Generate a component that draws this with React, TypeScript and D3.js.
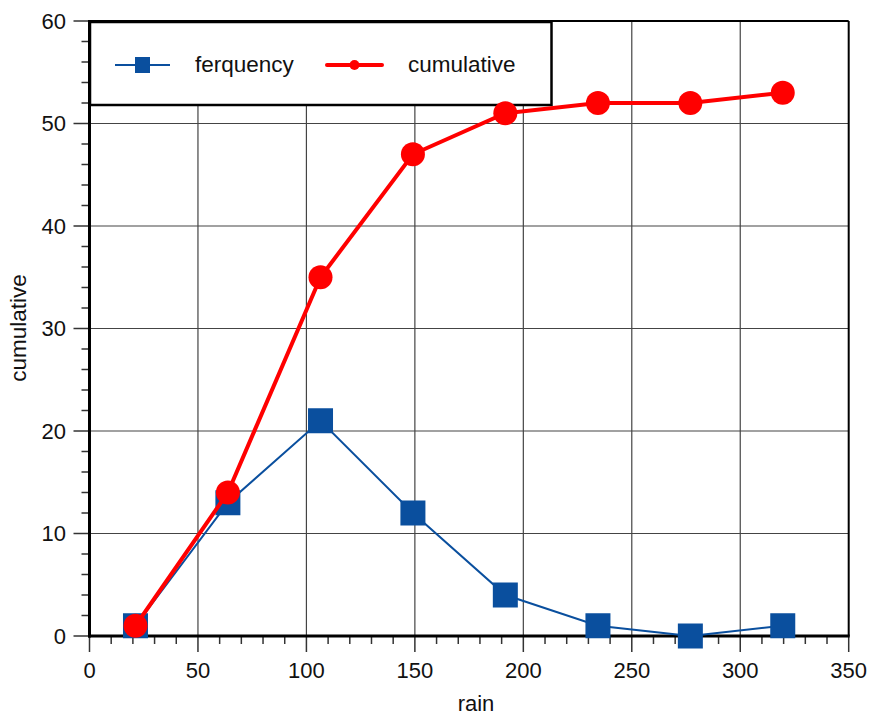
import React from "react";
import * as d3 from "d3";

const rain = [21.2, 63.8, 106.5, 149.1, 191.7, 234.4, 277, 319.6];
const frequency = [1, 13, 21, 12, 4, 1, 0, 1];
const cumulative = [1, 14, 35, 47, 51, 52, 52, 53];
const xTicks = [0, 50, 100, 150, 200, 250, 300, 350];
const yTicks = [0, 10, 20, 30, 40, 50, 60];

const W = 871, H = 715;
const L = 89.5, R = 848.7, T = 21, B = 636;
const FONT = "Liberation Sans, Arial, sans-serif";

export default function App() {
  const x = d3.scaleLinear().domain([0, 350]).range([L, R]);
  const y = d3.scaleLinear().domain([0, 60]).range([B, T]);
  const xMinor = d3.range(0, 351, 10).filter((v) => v % 50 !== 0);
  const yMinor = d3.range(0, 61, 2).filter((v) => v % 10 !== 0);
  const line = d3.line<number>().x((d, i) => x(rain[i])).y((d) => y(d));
  const blue = "#0a4f9e";
  const red = "#ff0000";
  return (
    <svg width={W} height={H} style={{ position: "absolute", left: 0, top: 0, background: "#fff" }} fontFamily={FONT}>
      {/* grid */}
      {xTicks.slice(1, -1).map((t) => (
        <line key={"gx" + t} x1={x(t)} x2={x(t)} y1={T} y2={B} stroke="#444" strokeWidth={1.2} />
      ))}
      {yTicks.slice(1, -1).map((t) => (
        <line key={"gy" + t} x1={L} x2={R} y1={y(t)} y2={y(t)} stroke="#444" strokeWidth={1.2} />
      ))}
      {/* frame */}
      <line x1={L} x2={R} y1={T} y2={T} stroke="#000" strokeWidth={2} />
      <line x1={R} x2={R} y1={T} y2={B} stroke="#000" strokeWidth={2} />
      {/* ticks */}
      {xTicks.map((t) => (
        <line key={"xt" + t} x1={x(t)} x2={x(t)} y1={B} y2={B + 16} stroke="#333" strokeWidth={1.5} />
      ))}
      {xMinor.map((t) => (
        <line key={"xm" + t} x1={x(t)} x2={x(t)} y1={B} y2={B + 8} stroke="#333" strokeWidth={1.5} />
      ))}
      {yTicks.map((t) => (
        <line key={"yt" + t} x1={L - 16} x2={L} y1={y(t)} y2={y(t)} stroke="#333" strokeWidth={1.5} />
      ))}
      {yMinor.map((t) => (
        <line key={"ym" + t} x1={L - 8} x2={L} y1={y(t)} y2={y(t)} stroke="#333" strokeWidth={1.5} />
      ))}
      <line x1={L} x2={L} y1={T - 1} y2={B + 1.5} stroke="#000" strokeWidth={3} />
      <line x1={L - 1.5} x2={R + 1} y1={B} y2={B} stroke="#000" strokeWidth={3} />
      {/* tick labels */}
      {xTicks.map((t) => (
        <text key={"xl" + t} x={x(t)} y={678} textAnchor="middle" fontSize={22} fill="#111">{t}</text>
      ))}
      {yTicks.map((t) => (
        <text key={"yl" + t} x={66} y={y(t)} dy="0.35em" textAnchor="end" fontSize={22} fill="#111">{t}</text>
      ))}
      <text x={476} y={711} textAnchor="middle" fontSize={22} fill="#111">rain</text>
      <text transform={`translate(25.5,${328}) rotate(-90)`} textAnchor="middle" fontSize={22.5} fill="#111">cumulative</text>
      {/* legend */}
      <rect x={90} y={22} width={461.5} height={83} fill="#fff" stroke="#000" strokeWidth={2.5} />
      {/* series */}
      <path d={line(frequency) || ""} fill="none" stroke={blue} strokeWidth={2} />
      {frequency.map((v, i) => (
        <rect key={"fs" + i} x={x(rain[i]) - 12.5} y={y(v) - 12.5} width={25} height={25} fill={blue} />
      ))}
      <path d={line(cumulative) || ""} fill="none" stroke={red} strokeWidth={4} />
      {cumulative.map((v, i) => (
        <circle key={"cc" + i} cx={x(rain[i])} cy={y(v)} r={12} fill={red} />
      ))}
      {/* legend items */}
      <line x1={115} x2={170} y1={65} y2={65} stroke={blue} strokeWidth={2} />
      <rect x={135} y={57} width={15} height={16} fill={blue} />
      <text x={195} y={72} fontSize={22.5} fill="#111">ferquency</text>
      <line x1={327} x2={382} y1={65} y2={65} stroke={red} strokeWidth={4} strokeLinecap="round" />
      <circle cx={354.5} cy={65} r={5} fill={red} />
      <text x={408} y={72} fontSize={22.5} fill="#111">cumulative</text>
    </svg>
  );
}
